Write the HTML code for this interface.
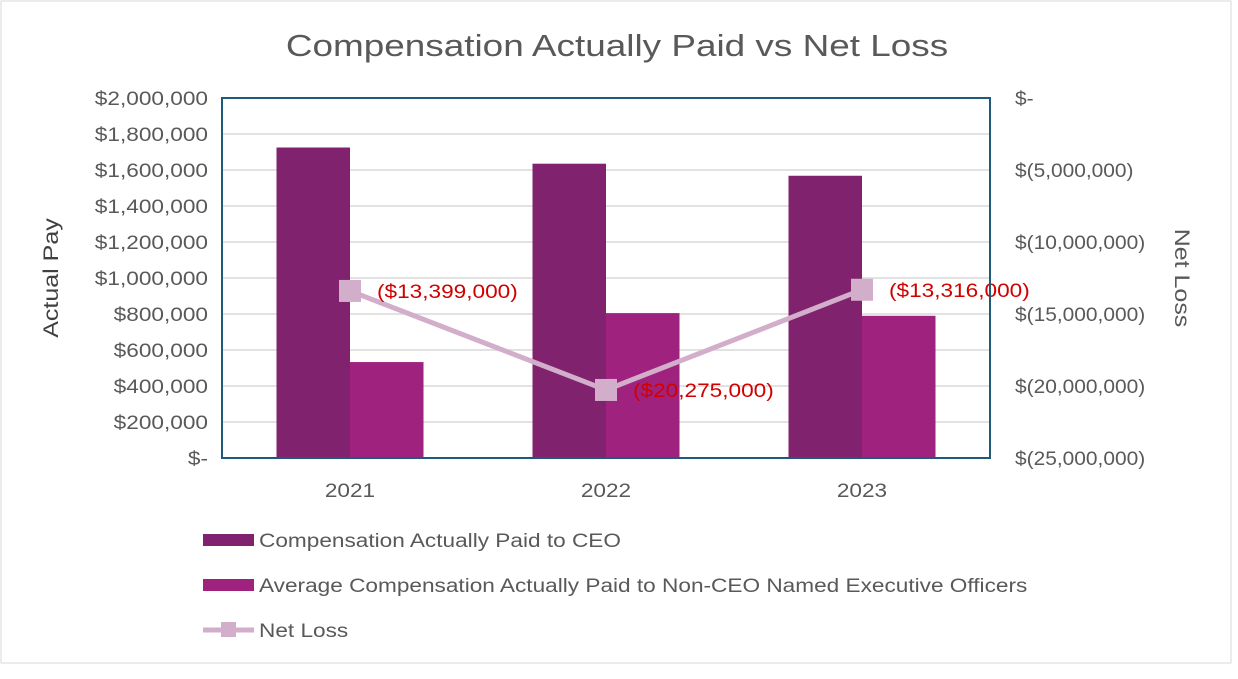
<!DOCTYPE html>
<html><head><meta charset="utf-8"><style>
body{margin:0;background:#fff}
svg text{font-family:"Liberation Sans",sans-serif}
</style></head><body>
<svg id="c" width="1238" height="674" xmlns="http://www.w3.org/2000/svg">
<rect x="1" y="1" width="1230" height="662" fill="#fff" stroke="#d9d9d9"/>
<text x="617" y="56" font-size="31" fill="#595959" text-anchor="middle">Compensation Actually Paid vs Net Loss</text>
<g id="grid"></g><g id="bars"></g><g id="line"></g>
<rect x="222" y="98" width="768" height="360" fill="none" stroke="#1f5a7a" stroke-width="2"/>
<text transform="translate(58,278) rotate(-90)" font-size="21" fill="#404040" text-anchor="middle">Actual Pay</text>
<text transform="translate(1175,278) rotate(90)" font-size="21" fill="#595959" text-anchor="middle">Net Loss</text>
<g>
<rect x="203" y="534" width="51" height="12" fill="#80226e"/>
<text x="259" y="547" font-size="19" fill="#595959">Compensation Actually Paid to CEO</text>
<rect x="203" y="579" width="51" height="12" fill="#a0227f"/>
<text x="259" y="592" font-size="19" fill="#595959">Average Compensation Actually Paid to Non-CEO Named Executive Officers</text>
<line x1="203" y1="630" x2="254" y2="630" stroke="#d2aecb" stroke-width="5"/>
<rect x="221" y="622" width="15" height="15" fill="#d2aecb"/>
<text x="259" y="637" font-size="19" fill="#595959">Net Loss</text>
</g>
</svg>
<script>
const years=["2021","2022","2023"];
const ceoPay=[1725000,1635000,1568000];
const neoPay=[533000,805000,790000];
const netLoss=[-13399000,-20275000,-13316000];
const netLossLabels=["($13,399,000)","($20,275,000)","($13,316,000)"];
const leftTicks=["$-","$200,000","$400,000","$600,000","$800,000","$1,000,000","$1,200,000","$1,400,000","$1,600,000","$1,800,000","$2,000,000"];
const rightTicks=["$-","$(5,000,000)","$(10,000,000)","$(15,000,000)","$(20,000,000)","$(25,000,000)"];
const NS="http://www.w3.org/2000/svg";
const X0=222,W=768,Y0=98,H=360;
const yL=v=>Y0+H-v/2000000*H;
const yR=v=>Y0+(-v)/25000000*H;
const xC=i=>X0+W/3*(i+0.5);
function mk(p,t,a){const e=document.createElementNS(NS,t);for(const k in a)e.setAttribute(k,a[k]);p.appendChild(e);return e;}
const grid=document.getElementById('grid'),bars=document.getElementById('bars'),line=document.getElementById('line'),svg=document.getElementById('c');
leftTicks.forEach((t,i)=>{const y=yL(i*200000);
 if(i>0){const g=mk(grid,'line',{x1:X0,x2:X0+W,y1:y,y2:y,stroke:'#d9d9d9','stroke-width':1.5});
 
 }
 const tx=mk(svg,'text',{x:208,y:y+7,'font-size':19,fill:'#595959','text-anchor':'end'});tx.textContent=t;
 
 });
rightTicks.forEach((t,i)=>{const y=yR(-i*5000000);
 const tx=mk(svg,'text',{x:1015,y:y+7,'font-size':19,fill:'#595959'});tx.textContent=t;
 
 
 tx.setAttribute('data-s','1.1');});
const bw=73.5;
years.forEach((yr,i)=>{const c=xC(i);
 const b1=mk(bars,'rect',{x:c-bw,y:yL(ceoPay[i]),width:bw,height:yL(0)-yL(ceoPay[i]),fill:'#80226e'});
 
 
 const b2=mk(bars,'rect',{x:c,y:yL(neoPay[i]),width:bw,height:yL(0)-yL(neoPay[i]),fill:'#a0227f'});
 
 
 const tx=mk(svg,'text',{x:c,y:497,'font-size':19,fill:'#595959','text-anchor':'middle'});tx.textContent=yr;
 
 });
const pl=mk(line,'polyline',{points:netLoss.map((v,i)=>xC(i)+','+yR(v)).join(' '),fill:'none',stroke:'#d2aecb','stroke-width':5});


netLoss.forEach((v,i)=>{const x=xC(i),y=yR(v);
 const m=mk(line,'rect',{x:x-11,y:y-11,width:22,height:22,fill:'#d2aecb'});
 
 
 const t=mk(line,'text',{x:x+27,y:y+7,'font-size':19,fill:'#d00000'});t.textContent=netLossLabels[i];
 
 });
document.querySelectorAll('svg text').forEach(t=>{const s=parseFloat(t.getAttribute('data-s')||'1.19');
 const L=t.getComputedTextLength();t.setAttribute('textLength',(L*s).toFixed(1));t.setAttribute('lengthAdjust','spacingAndGlyphs');});
</script>
</body></html>
